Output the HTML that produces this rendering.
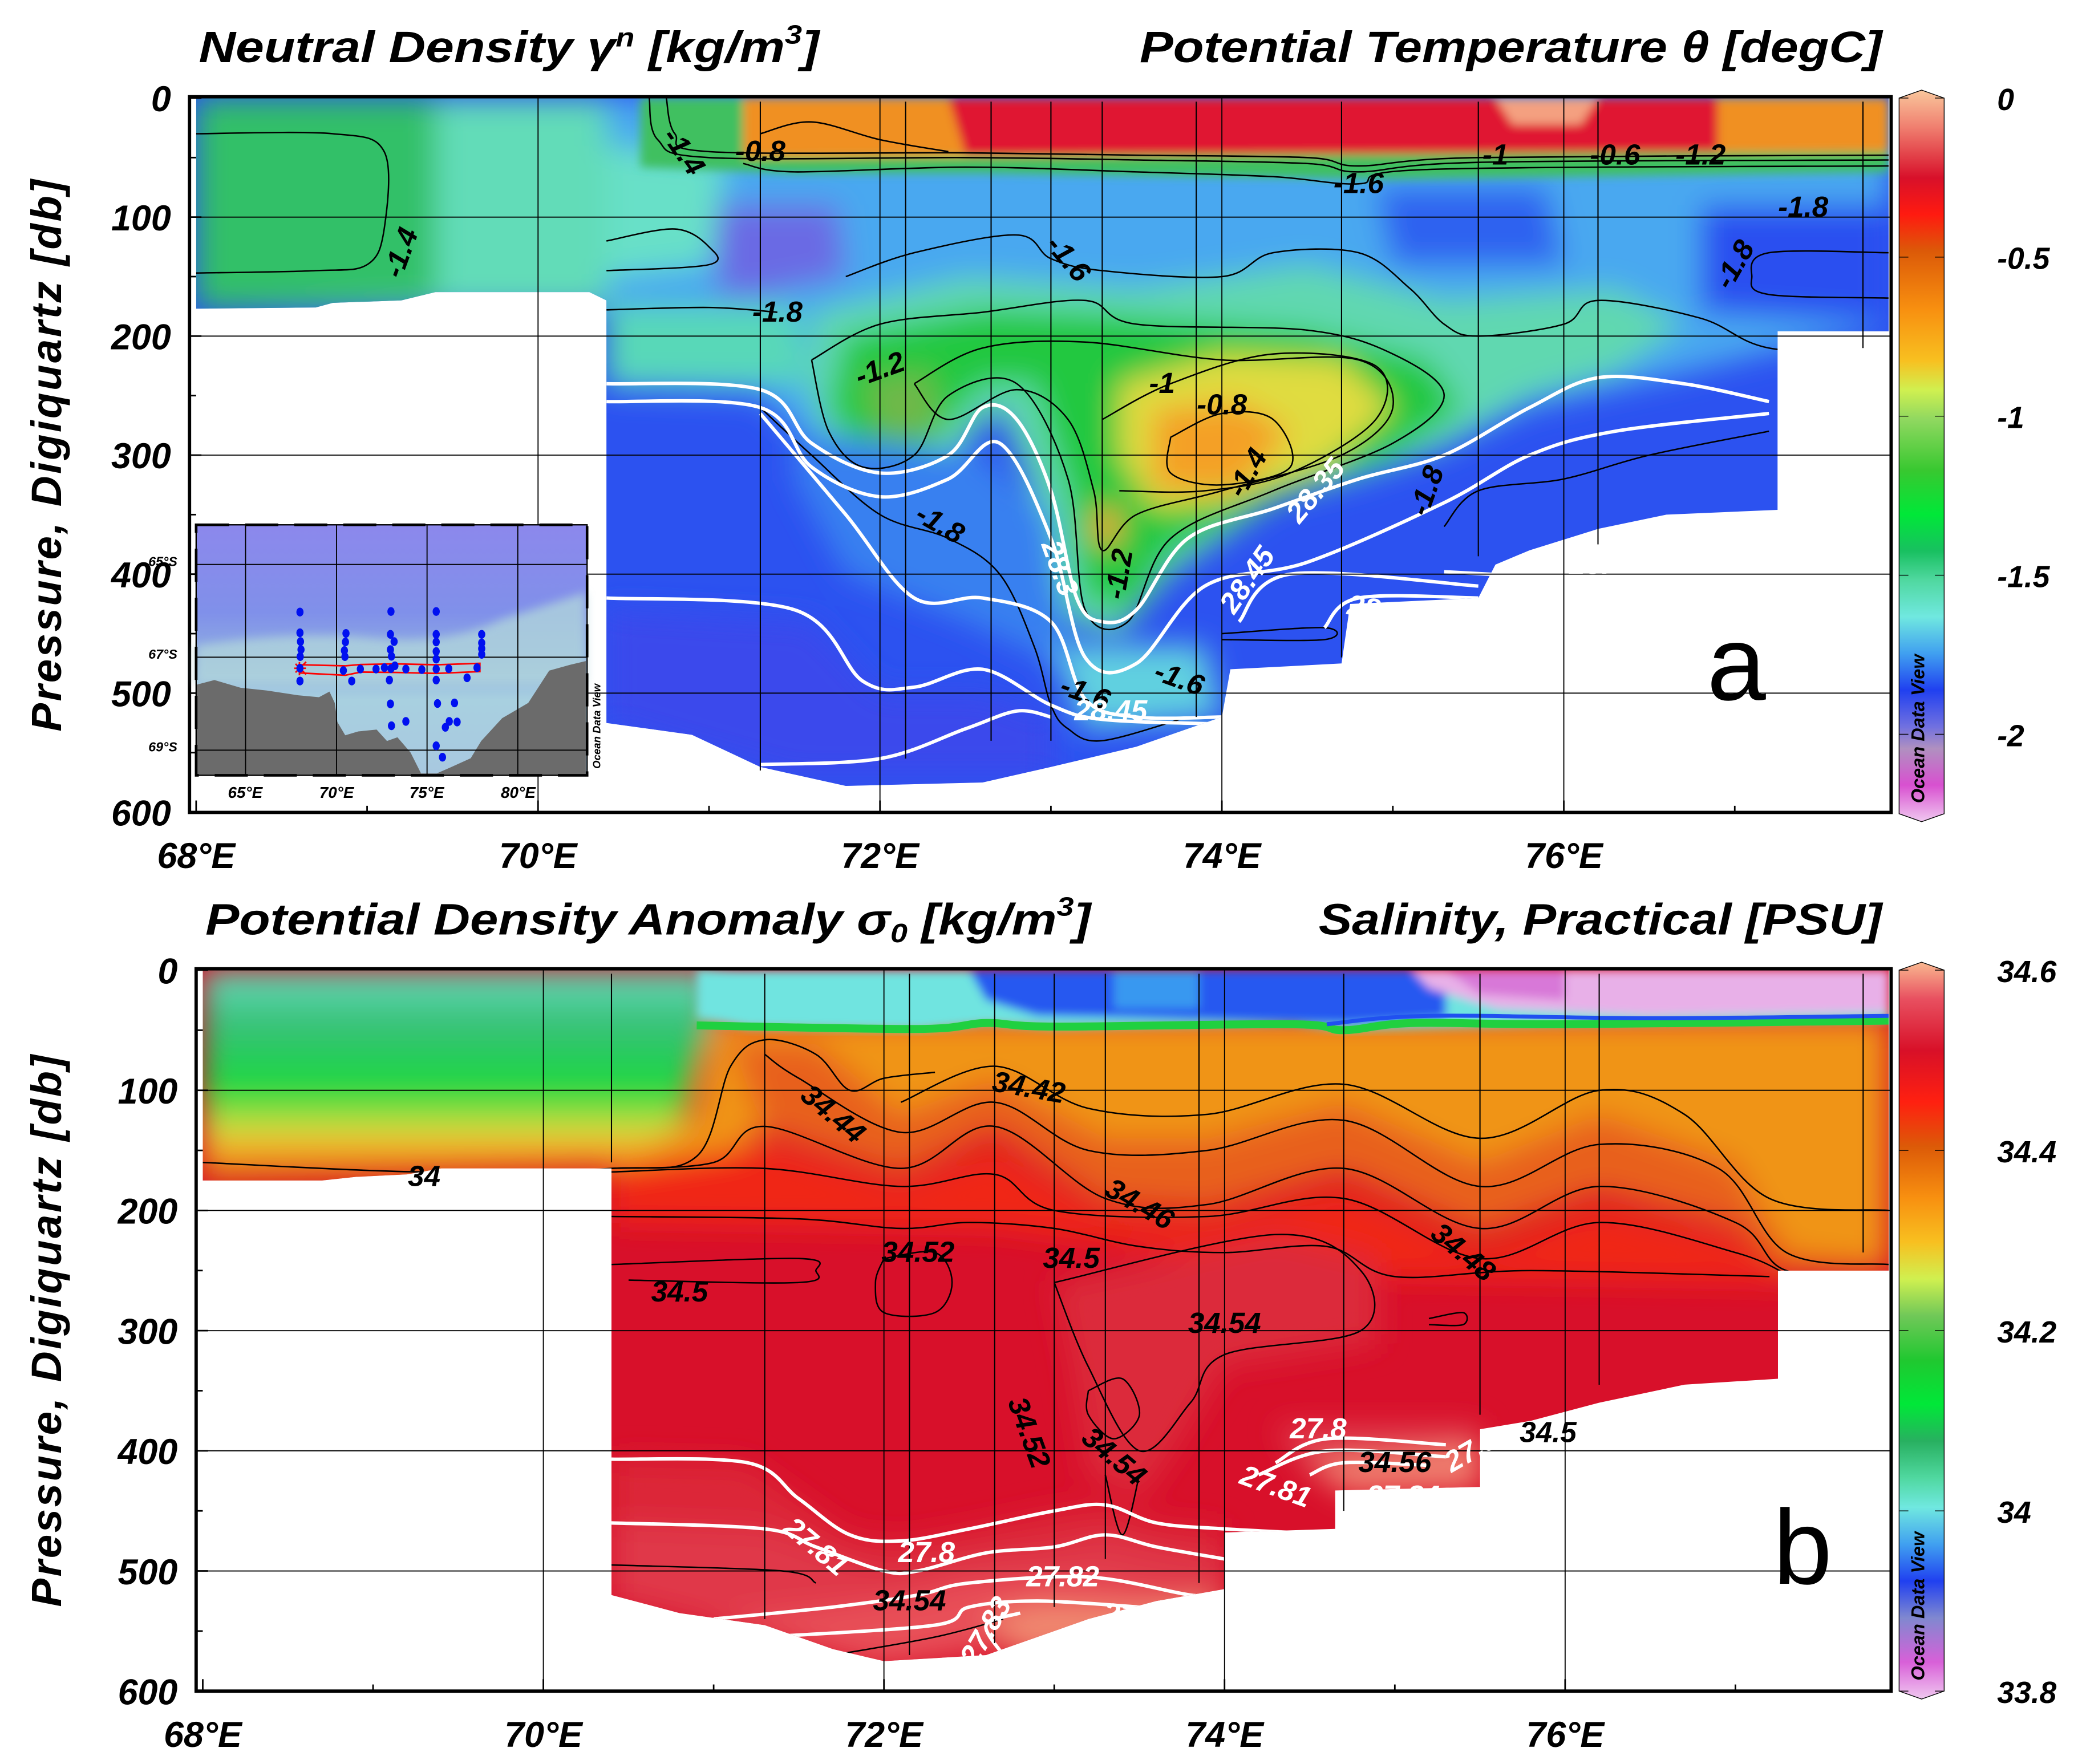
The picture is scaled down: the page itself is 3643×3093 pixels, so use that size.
<!DOCTYPE html>
<html><head><meta charset="utf-8"><style>
html,body{margin:0;padding:0;background:#fff;}
svg{display:block;}
text{font-family:"Liberation Sans",sans-serif;font-weight:bold;font-style:italic;}
</style></head><body>
<svg id="fig" xmlns="http://www.w3.org/2000/svg" width="3643" height="3093" viewBox="0 0 1568 1331" preserveAspectRatio="none">
<defs>
<filter id="blur" x="-20%" y="-20%" width="140%" height="140%"><feGaussianBlur stdDeviation="11"/></filter>
<filter id="blur2" x="-10%" y="-10%" width="120%" height="120%"><feGaussianBlur stdDeviation="3.5"/></filter>
<linearGradient id="cbTop" x1="0" y1="0" x2="0" y2="1">
<stop offset="0" stop-color="#f9c79c"/><stop offset="0.05" stop-color="#f08070"/><stop offset="0.12" stop-color="#d8102a"/><stop offset="0.17" stop-color="#ff1a10"/>
<stop offset="0.22" stop-color="#dc5a08"/><stop offset="0.3" stop-color="#f89010"/><stop offset="0.37" stop-color="#f8c020"/><stop offset="0.41" stop-color="#d0f050"/>
<stop offset="0.45" stop-color="#90d860"/><stop offset="0.52" stop-color="#38c830"/><stop offset="0.58" stop-color="#00e838"/><stop offset="0.63" stop-color="#18c060"/>
<stop offset="0.67" stop-color="#50d8a0"/><stop offset="0.72" stop-color="#70e8e0"/><stop offset="0.77" stop-color="#40a0f0"/><stop offset="0.82" stop-color="#2040f0"/>
<stop offset="0.87" stop-color="#7070e0"/><stop offset="0.9" stop-color="#b090c0"/><stop offset="0.95" stop-color="#d850d0"/><stop offset="1" stop-color="#f0c8f0"/>
</linearGradient>
<linearGradient id="cbBot" x1="0" y1="0" x2="0" y2="1">
<stop offset="0" stop-color="#f9b890"/><stop offset="0.05" stop-color="#e85060"/><stop offset="0.12" stop-color="#d81028"/><stop offset="0.19" stop-color="#ff2010"/>
<stop offset="0.25" stop-color="#dc5a08"/><stop offset="0.32" stop-color="#f89010"/><stop offset="0.38" stop-color="#f8c020"/><stop offset="0.43" stop-color="#d0f050"/>
<stop offset="0.48" stop-color="#70c858"/><stop offset="0.54" stop-color="#20c830"/><stop offset="0.6" stop-color="#00e838"/><stop offset="0.65" stop-color="#28b060"/>
<stop offset="0.7" stop-color="#50d8a0"/><stop offset="0.74" stop-color="#70e8e0"/><stop offset="0.79" stop-color="#40a0f0"/><stop offset="0.84" stop-color="#2040f0"/>
<stop offset="0.89" stop-color="#8088d0"/><stop offset="0.95" stop-color="#d860d8"/><stop offset="1" stop-color="#f0c8f0"/>
</linearGradient>
<linearGradient id="leftBot" gradientUnits="userSpaceOnUse" x1="0" y1="732" x2="0" y2="893">
<stop offset="0" stop-color="#68dcc0"/><stop offset="0.25" stop-color="#38c078"/><stop offset="0.55" stop-color="#18d840"/><stop offset="0.75" stop-color="#d8e040"/><stop offset="0.85" stop-color="#f8a020"/><stop offset="1" stop-color="#d86010"/>
</linearGradient>
<linearGradient id="insetSea" x1="0" y1="0" x2="0" y2="1">
<stop offset="0" stop-color="#8c88ec"/><stop offset="0.35" stop-color="#8090ea"/><stop offset="0.55" stop-color="#90b0e0"/><stop offset="0.7" stop-color="#a8d0e0"/><stop offset="1" stop-color="#a8c8e0"/>
</linearGradient>
</defs>
</svg>
<script>
// ---------- DATA ----------
const topStationLon = [71.3, 72.15, 72.65, 73.0, 73.3, 73.85, 74.7, 75.5, 76.2, 77.75];
const topStationDepth = [565, 555, 540, 540, 520, 520, 470, 385, 375, 210];
const botStationLon = [70.4, 71.3, 72.15, 72.65, 73.0, 73.3, 73.85, 74.7, 75.5, 76.2, 77.75];
const botStationDepth = [160, 540, 570, 560, 530, 490, 510, 450, 370, 345, 235];
const xTicks = [68, 70, 72, 74, 76];
const xTickLabels = ["68°E", "70°E", "72°E", "74°E", "76°E"];
const yTicks = [0, 100, 200, 300, 400, 500, 600];
const topCbValues = [0, -0.5, -1, -1.5, -2];
const topCbLabels = ["0", "-0.5", "-1", "-1.5", "-2"];
const botCbValues = [34.6, 34.4, 34.2, 34, 33.8];
const botCbLabels = ["34.6", "34.4", "34.2", "34", "33.8"];

const topRegion = [[68,0],[77.9,0],[77.9,196],[77.25,196],[77.25,346],[76.6,350],[76.2,362],[75.8,380],[75.6,392],[75.5,420],[74.75,425],[74.7,475],[74.05,480],[74.0,520],[73.8,530],[73.5,545],[73.0,562],[72.6,575],[71.8,578],[71.3,562],[70.9,535],[70.4,525],[70.4,170],[70.3,163],[69.4,163],[69.2,170],[68.8,172],[68.7,176],[68,177]];
const botRegion = [[68,0],[77.9,0],[77.9,250],[77.25,250],[77.25,340],[76.7,345],[76.2,360],[75.8,375],[75.5,382],[75.5,430],[74.65,433],[74.65,465],[74.0,468],[74.0,515],[73.6,525],[73.2,540],[72.9,555],[72.6,570],[72.0,575],[71.7,565],[71.3,545],[70.8,535],[70.4,520],[70.4,165],[69.4,165],[69.2,170],[68.9,172],[68.7,175],[68,175]];

const topFields = [
 ["#4aa8f0",[[70.4,0],[77.9,0],[77.9,190],[77.3,210],[76.6,235],[75.8,260],[75.3,295],[74.8,320],[74.0,350],[73.6,390],[73.4,440],[73.2,440],[73.0,350],[72.8,270],[72.6,260],[72.4,300],[72,320],[71.6,295],[71.3,250],[70.4,245]]],
 ["#68e0c8",[[70.4,40],[71.1,50],[71.0,140],[70.4,150]]],
 ["#58d8b8",[[70.4,175],[71.5,175],[71.6,240],[70.4,240]]],
 ["#2f62f0",[[74.9,75],[75.9,75],[76.0,140],[75.0,140]]],
 ["#2c50f0",[[76.8,90],[77.9,90],[77.9,190],[76.8,180]]],
 ["#6a6ae4",[[71.05,90],[71.75,90],[71.8,150],[71.3,165],[71.05,165]]],
 ["#60d8b0",[[71.6,180],[72.5,150],[73.5,160],[74.5,140],[75.3,170],[76.3,160],[76.7,190],[76.3,230],[75.8,250],[75.3,290],[74.3,340],[73.7,400],[73.4,450],[73.1,440],[72.9,330],[72.7,260],[72.3,320],[71.8,310],[71.6,260]]],
 ["#22c840",[[71.8,200],[72.6,178],[73.3,182],[74.5,195],[75.2,220],[75.4,260],[75,300],[74.3,335],[73.7,380],[73.45,430],[73.2,420],[73.1,330],[72.9,240],[72.6,240],[72.3,290],[71.9,300],[71.7,260]]],
 ["#70b848",[[71.9,235],[72.3,230],[72.35,280],[72.0,285]]],
 ["#e0dc40",[[73.4,240],[74.0,215],[74.7,220],[75.0,260],[74.6,310],[74.0,340],[73.6,345],[73.4,300]]],
 ["#f4a028",[[73.6,262],[74.1,255],[74.4,280],[74.1,330],[73.6,330]]],
 ["#f0a030",[[73.25,345],[73.4,345],[73.4,375],[73.25,375]]],
 ["#3880f0",[[71.5,280],[72.6,300],[73.0,350],[73.1,480],[72.5,440],[71.8,400],[71.5,320]]],
 ["#3a48ec",[[70.4,430],[71.6,440],[72.0,500],[72.6,500],[73.0,520],[73,570],[71.5,570],[70.4,525]]],
 ["#60d0e0",[[73.0,460],[73.9,460],[74.0,520],[73.2,530]]],
 ["#62dcb8",[[68,0],[70.4,0],[70.4,177],[68,177]]],
 ["#12d640",[[68,10],[69.1,10],[69.1,150],[68,150]]],
 ["#30c068",[[68,0],[69.4,0],[69.4,170],[68,177]]],
];
const topSurface = [
 ["#40c060",[[70.6,0],[71.2,0],[71.2,50],[77.9,45],[77.9,62],[75,68],[72.6,63],[71.5,63],[70.6,58]]],
 ["#f09020",[[71.2,0],[77.9,0],[77.9,45],[71.2,50]]],
 ["#e01830",[[72.4,0],[76.9,0],[76.9,45],[72.5,48]]],
 ["#f4a080",[[75.6,0],[76.2,0],[76.1,22],[75.7,22]]],
];
const botFields = [
 ["url(#leftBot)",[[68,0],[71.0,0],[71.0,40],[70.9,80],[70.8,140],[70.6,160],[70.4,165],[68,177]]],
 ["#f09418",[[71.0,40],[77.9,40],[77.9,250],[77.3,250],[77.0,215],[76.2,185],[75.5,220],[74.7,170],[73.9,200],[73.3,195],[72.65,135],[72.1,170],[71.3,135],[71.0,160],[70.4,165],[70.9,120]]],
 ["#e8601a",[[71.1,60],[71.6,60],[72.1,120],[72.65,90],[73.3,140],[73.9,140],[74.7,110],[75.5,160],[76.2,120],[77,160],[77.3,235],[77.9,245],[77.9,252],[77.3,252],[77,215],[76.2,185],[75.5,220],[74.7,170],[73.9,200],[73.3,195],[72.65,135],[72.1,170],[71.3,135]]],
 ["#f02818",[[70.4,165],[71.3,145],[72.1,180],[72.65,150],[73.3,205],[73.9,210],[74.7,185],[75.5,235],[76.2,200],[77,225],[77.3,253],[77.3,260],[75,255],[74,240],[72.65,215],[70.4,210]]],
 ["#dc2a3a",[[73.0,260],[74.3,220],[74.9,240],[74.9,310],[74.0,330],[73.7,400],[73.5,440],[73.2,420],[73.1,330]]],
 ["#dc2838",[[70.4,407],[71.2,410],[71.5,440],[71.8,470],[72.1,475],[72.5,465],[73,450],[73.3,445],[73.6,460],[74,465],[74,520],[72,580],[70.4,525]]],
 ["#e03848",[[70.4,460],[71.3,465],[71.6,480],[72.0,500],[72.6,485],[73.0,480],[73.3,470],[73.6,480],[74.0,490],[74,520],[72,580],[70.4,525]]],
 ["#e85058",[[71.0,540],[71.7,530],[72.2,520],[72.5,510],[73.2,505],[73.8,520],[74.0,520],[73.5,545],[72,580]]],
 ["#f08870",[[72.6,540],[72.9,528],[73.5,530],[74,522],[73.8,560],[72.8,572]]],
 ["#e04050",[[74.3,380],[75.5,380],[75.5,400],[74.5,420]]],
 ["#f08070",[[74.5,410],[75.5,395],[75.5,432],[74.7,435]]],
];
const botSurface = [
 ["#70e4e0",[[70.9,0],[77.9,0],[77.9,42],[76,45],[74.7,50],[74.4,45],[73,48],[72.6,45],[72.2,50],[71.2,48],[70.9,40]]],
 ["#2858f0",[[72.5,0],[75.3,0],[75.3,40],[74.7,45],[73.5,40],[72.9,38],[72.6,25]]],
 ["#3898f0",[[73.35,0],[73.85,0],[73.85,32],[73.35,32]]],
 ["#e8b0e8",[[75.1,0],[77.9,0],[77.9,35],[76.5,38],[75.6,32],[75.2,15]]],
 ["#d878d8",[[75.3,0],[76.0,0],[76,25],[75.5,20]]],
];

const topBlack = [
 [[68,30],[68.8,30],[69.1,45],[69.1,110],[69.0,140],[68.7,145],[68,147]],
 [[70.75,0],[70.8,30],[71.0,45],[72.5,46],[73.5,48],[74.5,50],[74.8,57],[75.5,50],[77.9,48]],
 [[70.65,0],[70.7,35],[71.0,50],[72.5,50],[73.5,52],[74.5,55],[74.8,62],[75.5,54],[77.9,52]],
 [[71.2,55],[71.5,62],[72.5,58],[73.5,62],[74.3,66],[74.8,72],[75.2,60],[77.9,57]],
 [[71.3,30],[71.6,20],[72.0,35],[72.4,45]],
 [[70.4,120],[70.8,110],[71.0,125],[71.0,140],[70.4,145]],
 [[71.8,150],[72.2,130],[72.8,115],[73.0,135],[73.3,145],[74.0,150],[74.3,130],[74.8,130],[75.1,160],[75.3,190],[75.5,200],[76,190],[76.2,170],[76.8,185],[77.2,210],[77.9,215]],
 [[70.4,178],[71.0,176],[71.4,180]],
 [[77.9,130],[77.2,130],[77.1,150],[77.2,165],[77.9,168]],
 [[71.6,220],[72.0,190],[72.6,180],[73.2,170],[73.5,190],[74.5,195],[75.0,215],[75.3,250],[75.0,290],[74.3,330],[73.7,370],[73.45,440],[73.2,430],[73.1,320],[72.8,240],[72.4,250],[72.2,300],[71.9,310],[71.7,280],[71.6,220]],
 [[72.2,240],[72.6,210],[73.2,205],[74.0,220],[74.8,220],[75.0,260],[74.7,300],[74.0,330],[73.5,350],[73.3,380],[73.25,330],[73.1,270],[72.8,245],[72.4,270],[72.2,240]],
 [[73.3,270],[73.7,240],[74.3,215],[74.9,225],[74.9,270],[74.4,315],[73.9,330],[73.4,330]],
 [[73.7,285],[74.0,265],[74.3,270],[74.4,310],[74.0,325],[73.7,315],[73.7,285]],
 [[71.3,260],[71.6,300],[72.0,350],[72.4,370],[72.7,400],[72.9,460],[73.0,510],[73.1,530],[73.3,540],[73.8,520]],
 [[75.3,360],[75.5,330],[76.0,320],[76.5,300],[77.2,280]],
 [[74.0,450],[74.6,445],[74.6,455],[74.0,455]],
];
const topWhite = [
 [[70.4,240],[71.3,245],[71.6,290],[72.0,315],[72.4,300],[72.6,260],[72.8,270],[73.0,330],[73.15,420],[73.3,440],[73.5,430],[73.8,370],[74.3,345],[74.8,320],[75.3,300],[75.8,260],[76.2,235],[76.7,240],[77.2,255]],
 [[70.4,255],[71.3,260],[71.6,310],[72,335],[72.4,320],[72.7,290],[73.0,370],[73.2,470],[73.5,475],[73.9,410],[74.5,390],[75.3,340],[75.8,300],[76.3,280],[77.2,265]],
 [[71.3,265],[71.8,350],[72.2,420],[72.6,420],[73.0,440],[73.2,505],[73.5,520],[74.0,520]],
 [[70.4,420],[71.5,430],[71.9,490],[72.2,495],[72.6,480],[73.0,510],[73.3,522],[74.0,526]],
 [[71.3,560],[72,555],[72.5,530],[72.8,515],[73.0,520]],
 [[74.1,440],[74.4,400],[75.5,410]],
 [[74.6,445],[74.8,420],[75.5,420]],
 [[75.3,398],[76.2,405]],
];
const botBlack = [
 [[68,160],[69.3,168],[70.4,165],[70.9,155],[71.1,80],[71.3,58],[71.6,70],[71.8,100],[72.0,90],[72.3,85]],
 [[72.1,110],[72.65,80],[73.2,115],[73.9,120],[74.7,95],[75.5,140],[76.2,100],[76.7,120],[77.2,190],[77.9,200]],
 [[71.3,70],[71.5,90],[72.1,135],[72.65,110],[73.2,150],[73.9,150],[74.7,125],[75.5,180],[76.2,145],[76.9,165],[77.3,235],[77.9,245]],
 [[70.4,165],[71.0,160],[71.3,130],[72.1,165],[72.65,130],[73.3,190],[73.9,195],[74.7,165],[75.5,215],[76.2,180],[77.0,210],[77.3,250],[77.9,252]],
 [[70.4,168],[71.3,165],[72.1,180],[72.65,170],[73.0,200],[73.9,205],[74.7,190],[75.5,240],[76.2,210],[77,235],[77.3,253]],
 [[70.4,205],[71.5,207],[72.1,215],[72.5,210],[73,215],[73.5,230],[74.0,235],[74.6,230],[75.0,255],[75.8,250],[77.2,255]],
 [[70.4,245],[71.5,240],[71.6,250],[71.5,260],[70.5,258]],
 [[72.0,240],[72.3,235],[72.4,260],[72.3,285],[72.0,285],[71.95,260],[72.0,240]],
 [[73.0,260],[74.3,220],[74.8,250],[74.8,300],[74.0,320],[73.8,360],[73.5,400],[73.2,330],[73.0,260]],
 [[73.2,350],[73.4,340],[73.5,370],[73.35,390],[73.2,370],[73.2,350]],
 [[73.3,420],[73.4,470],[73.5,420]],
 [[70.4,495],[71.4,500],[71.6,510]],
 [[71.7,570],[72.3,555],[72.7,540]],
 [[75.2,290],[75.4,285],[75.4,295],[75.2,295]],
];
const botWhite = [
 [[70.4,407],[71.2,410],[71.5,440],[71.8,470],[72.1,475],[72.5,465],[73,450],[73.3,445],[73.6,460],[74,465],[74.7,470]],
 [[70.4,460],[71.3,465],[71.6,480],[72.0,500],[72.2,500],[72.6,485],[73.0,480],[73.3,470],[73.6,480],[74.0,490]],
 [[71.0,540],[71.7,530],[72.2,520],[72.5,510],[73.2,505],[73.8,520],[74.0,520]],
 [[71.3,555],[72.3,545],[72.5,530],[72.9,525],[73.5,530]],
 [[72.7,570],[72.6,545],[72.8,535]],
 [[74.3,410],[74.6,390],[75.3,395]],
 [[74.2,420],[74.6,400],[75.3,405]],
 [[74.5,420],[74.7,410],[75.2,412]],
];
const topBlackLabels = [[70.85,45,"-1.4",55],[71.3,45,"-0.8",0],[69.2,130,"-1.4",-70],[71.4,180,"-1.8",0],[72.0,228,"-1.2",-20],[73.1,135,"-1.6",50],[73.65,240,"-1",0],[74.0,258,"-0.8",0],[74.8,72,"-1.6",0],[75.6,48,"-1",0],[76.3,48,"-0.6",0],[76.8,48,"-1.2",0],[77.4,92,"-1.8",0],[77.0,140,"-1.8",-60],[72.35,358,"-1.8",30],[74.15,315,"-1.4",-60],[75.2,330,"-1.8",-70],[73.4,400,"-1.2",-80],[73.75,488,"-1.6",20],[73.2,500,"-1.6",20]];
const topWhiteLabels = [[74.55,330,"28.35",-50],[73.05,395,"28.3",70],[74.15,405,"28.45",-55],[74.9,430,"28.5",10],[73.35,515,"28.45",0],[76.15,392,"28.",0]];
const botBlackLabels = [[71.7,120,"34.44",40],[72.85,98,"34.42",10],[73.5,195,"34.46",30],[72.2,235,"34.52",0],[73.1,240,"34.5",0],[70.8,268,"34.5",0],[74.0,294,"34.54",0],[75.4,235,"34.48",40],[73.35,405,"34.54",40],[72.85,385,"34.52",70],[72.15,525,"34.54",0],[75.0,410,"34.56",0],[69.3,172,"34",0],[75.9,385,"34.5",0]];
const botWhiteLabels = [[72.25,485,"27.8",0],[71.6,480,"27.81",40],[73.05,505,"27.82",0],[73.5,540,"27.84",10],[72.6,550,"27.83",-60],[74.55,382,"27.8",0],[74.3,430,"27.81",20],[75.05,438,"27.84",0],[75.45,400,"27.8",-30]];

const insetDots = [[427,523],[427,632],[429,678],[431,720],[428,757],[427,818],[427,885],[603,635],[601,680],[597,725],[599,757],[593,830],[625,885],[775,520],[773,640],[787,678],[773,720],[777,755],[775,820],[769,880],[773,1005],[777,1120],[832,822],[832,1097],[718,822],[658,822],[750,815],[790,805],[893,825],[948,520],[948,640],[948,680],[948,730],[948,770],[948,822],[948,880],[953,1003],[948,1225],[972,1285],[996,820],[1018,1000],[998,1097],[1028,1100],[983,1128],[1066,868],[1122,640],[1122,685],[1122,715],[1122,745],[1104,815]];
const insetLand = [[30,905],[100,880],[200,920],[300,935],[420,960],[500,970],[540,940],[560,1000],[570,1100],[600,1170],[650,1150],[720,1140],[760,1200],[800,1180],[850,1260],[890,1370],[950,1370],[1000,1340],[1080,1290],[1120,1200],[1200,1080],[1300,1000],[1380,830],[1460,800],[1520,780],[1520,1380],[30,1380]];

// ---------- DRAWING ----------
const NS = "http://www.w3.org/2000/svg";
const svg = document.getElementById("fig");
function mk(tag, attrs, parent){ const e=document.createElementNS(NS,tag); for(const k in attrs) e.setAttribute(k,attrs[k]); (parent||svg).appendChild(e); return e; }

const P1 = {x:l=>148+(l-68)*129, y:p=>74+p*0.898, left:143, right:1427, top:73, bottom:613};
const P2 = {x:l=>153+(l-68)*128.5, y:p=>732+p*0.9067, left:148, right:1427, top:731, bottom:1276};

function pts(P, arr){ return arr.map(a=>P.x(a[0]).toFixed(1)+","+P.y(a[1]).toFixed(1)).join(" "); }
function smoothPath(P, arr){
  const q = arr.map(a=>[P.x(a[0]),P.y(a[1])]);
  let d = "M"+q[0][0].toFixed(1)+","+q[0][1].toFixed(1);
  for(let i=0;i<q.length-1;i++){
    const p0=q[Math.max(0,i-1)], p1=q[i], p2=q[i+1], p3=q[Math.min(q.length-1,i+2)];
    const c1=[p1[0]+(p2[0]-p0[0])/6, p1[1]+(p2[1]-p0[1])/6];
    const c2=[p2[0]-(p3[0]-p1[0])/6, p2[1]-(p3[1]-p1[1])/6];
    d += " C"+c1[0].toFixed(1)+","+c1[1].toFixed(1)+" "+c2[0].toFixed(1)+","+c2[1].toFixed(1)+" "+p2[0].toFixed(1)+","+p2[1].toFixed(1);
  }
  return d;
}

function drawPanel(P, region, baseColor, fields, surface, name){
  const g = mk("g",{});
  
  
  const cid = name+"-region";
  const cp = mk("clipPath",{id:cid}, svg.querySelector("defs"));
  mk("polygon",{points:pts(P,region)}, cp);
  const fg = mk("g",{"clip-path":"url(#"+cid+")"}, g);
  
  
  mk("rect",{x:0,y:P.top-20,width:1568,height:P.bottom-P.top+40,fill:baseColor}, fg);
  const bg = mk("g",{filter:"url(#blur)"}, fg);
  fields.forEach(f=>{ const e=mk("polygon",{points:pts(P,f[1]),fill:f[0]}, bg);
    
     });
  const sg = mk("g",{filter:"url(#blur2)"}, fg);
  surface.forEach(f=>{ const e=mk("polygon",{points:pts(P,f[1]),fill:f[0]}, sg);
    
     });
  return {g, fg};
}

function drawOverlays(P, g, fg, stLon, stDep, blackC, whiteC, bLab, wLab, name, extra){
  if(extra) extra(fg);
  blackC.forEach(c=>{ const e=mk("path",{d:smoothPath(P,c),fill:"none",stroke:"#000","stroke-width":1.1}, fg);
    
     });
  whiteC.forEach(c=>{ const e=mk("path",{d:smoothPath(P,c),fill:"none",stroke:"#fff","stroke-width":2.6}, fg);
    
     });
  for(const p of [100,200,300,400,500]){
    const e=mk("line",{x1:P.left,x2:P.right,y1:P.y(p),y2:P.y(p),stroke:"#000","stroke-width":0.8}, g);
    
    
  }
  for(const l of [70,72,74,76]){
    const e=mk("line",{x1:P.x(l),x2:P.x(l),y1:P.top,y2:P.bottom,stroke:"#000","stroke-width":0.8}, g);
    
    
  }
  stLon.forEach((l,i)=>{ const e=mk("line",{x1:P.x(l),x2:P.x(l),y1:P.y(3),y2:P.y(stDep[i]),stroke:"#000","stroke-width":0.9}, g);
    
     });
  const lab = (arr,col)=>arr.forEach(a=>{ const x=P.x(a[0]), y=P.y(a[1]);
    const t=mk("text",{x:x,y:y+7,"font-size":22,fill:col,"text-anchor":"middle",transform:"rotate("+a[3]+" "+x+" "+y+")"}, g);
    t.textContent=a[2];
    
     });
  lab(bLab,"#000"); lab(wLab,"#fff");
  const fr=mk("rect",{x:P.left,y:P.top,width:P.right-P.left,height:P.bottom-P.top,fill:"none",stroke:"#000","stroke-width":2.5}, g);
  
  
  for(let l=68;l<=77;l++){ const e=mk("line",{x1:P.x(l),x2:P.x(l),y1:P.bottom,y2:P.bottom-(l%2?5:9),stroke:"#000","stroke-width":1.2}, g);
      }
  for(let p=0;p<=600;p+=50){ const e=mk("line",{x1:P.left,x2:P.left+(p%100?5:9),y1:P.y(p),y2:P.y(p),stroke:"#000","stroke-width":1.2}, g);
      }
  xTicks.forEach((l,i)=>{ const t=mk("text",{x:P.x(l),y:P.bottom+42,"font-size":27,"text-anchor":"middle"}, g);
    t.textContent=xTickLabels[i];
      });
  yTicks.forEach(p=>{ const t=mk("text",{x:P.left-14,y:P.y(p)+10,"font-size":27,"text-anchor":"end"}, g);
    t.textContent=String(p);
      });
  const yl=mk("text",{x:0,y:0,"font-size":32,"text-anchor":"middle","letter-spacing":"1.5",transform:"translate(46,"+((P.top+P.bottom)/2)+") rotate(-90)"}, g);
  yl.textContent="Pressure, Digiquartz [db]";
  
  
}

function colorbar(y0, y1, grad, values, labels, vTop, vBot, name){
  const g=mk("g",{});
  
  
  const cy=v=>y0+(vTop-v)/(vTop-vBot)*(y1-y0);
  mk("polygon",{points:`1433,${y0} 1450,${y0-6} 1467,${y0} 1467,${y1} 1450,${y1+6} 1433,${y1}`,fill:grad,stroke:"#000","stroke-width":0.6}, g);
  values.forEach((v,i)=>{ const y=cy(v);
    mk("line",{x1:1433,x2:1440,y1:y,y2:y,stroke:"#000","stroke-width":0.6}, g);
    mk("line",{x1:1460,x2:1467,y1:y,y2:y,stroke:"#000","stroke-width":0.6}, g);
    const t=mk("text",{x:1507,y:y+9,"font-size":23}, g);
    t.textContent=labels[i];
    
     });
  const t=mk("text",{x:0,y:0,"font-size":14,transform:`translate(1452,${y1-8}) rotate(-90)`}, g);
  t.textContent="Ocean Data View";
  
  
}

let r1 = drawPanel(P1, topRegion, "#2c52f0", topFields, topSurface, "temperature");
drawOverlays(P1, r1.g, r1.fg, topStationLon, topStationDepth, topBlack, topWhite, topBlackLabels, topWhiteLabels, "temperature");
colorbar(74, 614, "url(#cbTop)", topCbValues, topCbLabels, 0, -2.25, "temperature");
let r2 = drawPanel(P2, botRegion, "#d8102a", botFields, botSurface, "salinity");
drawOverlays(P2, r2.g, r2.fg, botStationLon, botStationDepth, botBlack, botWhite, botBlackLabels, botWhiteLabels, "salinity", fg=>{
  const a=mk("path",{d:smoothPath(P2,[[70.9,46],[72.2,49],[72.6,44],[73,47],[74.4,45],[74.7,50],[75.1,44],[76,45],[77.9,42]]),fill:"none",stroke:"#20d040","stroke-width":6}, fg);
   
  const b=mk("path",{d:smoothPath(P2,[[74.6,45],[75.2,38],[76.5,40],[77.9,38]]),fill:"none",stroke:"#2050f0","stroke-width":3}, fg);
   
});
colorbar(732, 1276, "url(#cbBot)", botCbValues, botCbLabels, 34.6, 33.8, "salinity");

function title(x,y,anchor,len,html,name){
  const t=mk("text",{x:x,y:y,"font-size":33,"text-anchor":anchor,textLength:len,lengthAdjust:"spacingAndGlyphs"});
  t.innerHTML=html;
  
  
}
title(150,47,"start",468,'Neutral Density γ<tspan dy="-12" font-size="20">n</tspan><tspan dy="12"> [kg/m</tspan><tspan dy="-14" font-size="20">3</tspan><tspan dy="14">]</tspan>',"top-left-title");
title(1420,47,"end",560,'Potential Temperature θ [degC]',"top-right-title");
title(155,705,"start",668,'Potential Density Anomaly σ<tspan dy="6" font-size="20">0</tspan><tspan dy="-6"> [kg/m</tspan><tspan dy="-14" font-size="20">3</tspan><tspan dy="14">]</tspan>',"bottom-left-title");
title(1420,705,"end",425,'Salinity, Practical [PSU]',"bottom-right-title");
const la=mk("text",{x:1288,y:528,"font-size":80,style:"font-style:normal;font-weight:normal"});
la.textContent="a";


const lb=mk("text",{x:1338,y:1195,"font-size":80,style:"font-style:normal;font-weight:normal"});
lb.textContent="b";



const IX=148, IY=396, IW=295, IH=189;
const ix=f=>IX+(f-30)/1495*IW, iy=f=>IY+(f-65)/1315*IH;
const ig=mk("g",{});


mk("rect",{x:IX,y:IY,width:IW,height:IH,fill:"url(#insetSea)"}, ig);
mk("path",{d:"M"+ix(30)+","+iy(700)+" Q"+ix(400)+","+iy(620)+" "+ix(700)+","+iy(660)+" T"+ix(1200)+","+iy(560)+" L"+ix(1520)+","+iy(420)+" L"+ix(1520)+","+iy(900)+" L"+ix(30)+","+iy(900)+"Z",fill:"#b0d4dc",opacity:0.8,filter:"url(#blur2)"}, ig);
const land=mk("polygon",{points:insetLand.map(a=>ix(a[0]).toFixed(1)+","+iy(a[1]).toFixed(1)).join(" "),fill:"#6b6b6b"}, ig);


for(const gx of [219,567,913,1260]) mk("line",{x1:ix(gx),x2:ix(gx),y1:IY,y2:IY+IH,stroke:"#000","stroke-width":0.8}, ig);
for(const gy of [273,760,1248]) mk("line",{x1:IX,x2:IX+IW,y1:iy(gy),y2:iy(gy),stroke:"#000","stroke-width":0.8}, ig);
mk("polygon",{points:[[430,800],[600,805],[660,798],[790,795],[950,800],[1115,792],[1115,835],[950,845],[800,840],[660,838],[600,855],[430,843]].map(a=>ix(a[0]).toFixed(1)+","+iy(a[1]).toFixed(1)).join(" "),fill:"none",stroke:"#f00","stroke-width":1.2}, ig);
mk("path",{d:`M${ix(405)},${iy(818)}h${(ix(450)-ix(405))} M${ix(425)},${iy(785)}v${iy(855)-iy(785)} M${ix(410)},${iy(795)}l8,8 M${ix(410)},${iy(840)}l8,-8`,stroke:"#f00","stroke-width":1.2}, ig);
insetDots.forEach(d=>{ const c=mk("ellipse",{cx:ix(d[0]),cy:iy(d[1]),rx:2.7,ry:3.3,fill:"#0010f0"}, ig);
  
   });
mk("rect",{x:IX,y:IY,width:IW,height:IH,fill:"none",stroke:"#000","stroke-width":2,"stroke-dasharray":"25 12"}, ig);
mk("rect",{x:IX,y:IY,width:IW,height:IH,fill:"none",stroke:"#000","stroke-width":1}, ig);
[["65°E",185],["70°E",254],["75°E",322],["80°E",391]].forEach(a=>{ const t=mk("text",{x:a[1],y:602,"font-size":12,"text-anchor":"middle"}, ig); t.textContent=a[0]; });
[["65°S",427],["67°S",497],["69°S",567]].forEach(a=>{ const t=mk("text",{x:112,y:a[1],"font-size":10}, ig); t.textContent=a[0]; });
const iv=mk("text",{x:0,y:0,"font-size":8,transform:"translate(453,580) rotate(-90)"}, ig);
iv.textContent="Ocean Data View";
</script>
</body></html>
